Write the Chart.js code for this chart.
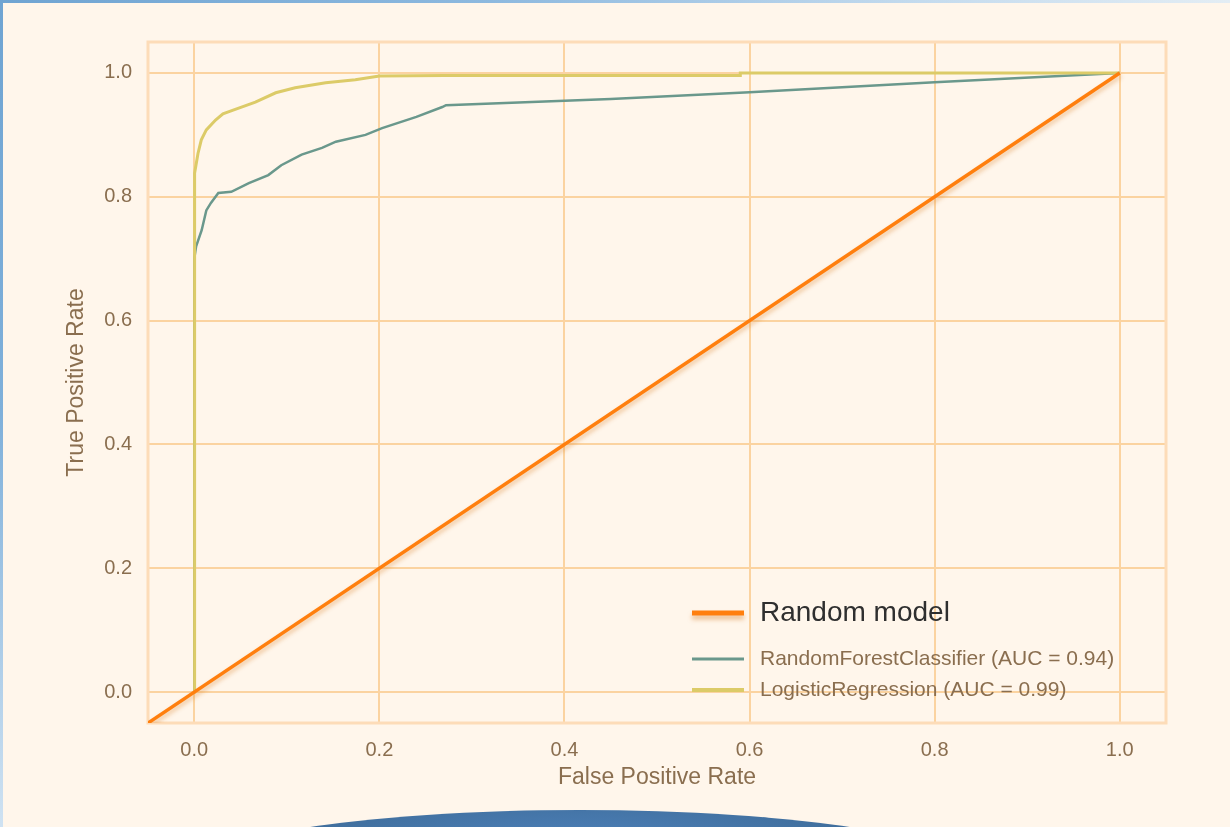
<!DOCTYPE html>
<html>
<head>
<meta charset="utf-8">
<script src="https://cdn.jsdelivr.net/npm/chart.js@4"></script>
<style>
  html, body { margin: 0; padding: 0; }
  body { width: 1230px; height: 827px; background: #fff6eb; position: relative; overflow: hidden; }
  .edge-top { position: absolute; left: 0; top: 0; width: 1230px; height: 3px;
    background: linear-gradient(90deg, #6fa4d2 0%, #8db9df 40%, #c4dbee 75%, #e3edf4 100%); }
  .edge-left { position: absolute; left: 0; top: 0; width: 3px; height: 827px;
    background: linear-gradient(180deg, #6fa4d2 0%, #7fb0da 50%, #cfe2f2 100%); }
  .globe { position: absolute; left: 180px; top: 810px; width: 800px; height: 130px; border-radius: 50%;
    background: radial-gradient(ellipse at 50% 35%, #4f84c0 0%, #41709f 50%, #34598a 85%); }
  canvas { position: absolute; left: 0; top: 0; }
</style>
</head>
<body>
<div class="edge-top"></div>
<div class="edge-left"></div>
<div class="globe"></div>
<canvas id="roc" width="1230" height="827"></canvas>
<script>
'use strict';

// ─── Data ────────────────────────────────────────────────────────────────────
const xTicks = [0.0, 0.2, 0.4, 0.6, 0.8, 1.0];
const yTicks = [0.0, 0.2, 0.4, 0.6, 0.8, 1.0];

const randomFpr = [-0.05, 1.0];
const randomTpr = [-0.05, 1.0];

const rfFpr = [0, 0, 0.002, 0.008, 0.013, 0.018, 0.026, 0.040, 0.059, 0.080, 0.094,
               0.116, 0.138, 0.153, 0.185, 0.203, 0.240, 0.268, 0.272, 0.45, 0.60, 0.80, 1.0];
const rfTpr = [0, 0.70, 0.720, 0.746, 0.778, 0.790, 0.806, 0.808, 0.822, 0.835, 0.851,
               0.868, 0.879, 0.889, 0.900, 0.911, 0.929, 0.945, 0.948, 0.958, 0.969, 0.985, 1.0];

const lrFpr = [0, 0, 0.0007, 0.004, 0.0076, 0.013, 0.023, 0.031, 0.042, 0.066, 0.088,
               0.109, 0.142, 0.174, 0.200, 0.270, 0.590, 0.590, 1.0];
const lrTpr = [0, 0.70, 0.838, 0.870, 0.892, 0.908, 0.924, 0.934, 0.940, 0.953, 0.968,
               0.976, 0.984, 0.989, 0.995, 0.996, 0.996, 1.0, 1.0];

const seriesLabels = ['Random model', 'RandomForestClassifier (AUC = 0.94)', 'LogisticRegression (AUC = 0.99)'];

// ─── Style ───────────────────────────────────────────────────────────────────
const FONT      = "'Liberation Sans', Arial, sans-serif";
const TEXT      = '#8a6e4f';
const GRID      = '#fbd3a0';
const ORANGE    = '#ff7f0e';
const TEAL      = '#6a988c';
const YELLOW    = '#dccb68';

const toPoints = (xs, ys) => xs.map((x, i) => ({ x, y: ys[i] }));

// Frame around the plot area (matplotlib spines)
const framePlugin = {
  id: 'frame',
  beforeDatasetsDraw(chart) {
    const { ctx, chartArea: a } = chart;
    ctx.save();
    ctx.strokeStyle = '#fddcb8';
    ctx.lineWidth = 3;
    ctx.strokeRect(a.left, a.top, a.right - a.left, a.bottom - a.top);
    ctx.restore();
  },
};

// Soft shadow under the random-model diagonal
const shadowPlugin = {
  id: 'lineShadow',
  beforeDatasetDraw(chart, args) {
    if (args.index !== 0) return;
    const ctx = chart.ctx;
    ctx.save();
    ctx.shadowColor = 'rgba(220, 140, 60, 0.45)';
    ctx.shadowBlur = 4;
    ctx.shadowOffsetX = 1;
    ctx.shadowOffsetY = 3;
  },
  afterDatasetDraw(chart, args) {
    if (args.index !== 0) return;
    chart.ctx.restore();
  },
};

// Legend inside the axes, lower right
const legendPlugin = {
  id: 'innerLegend',
  afterDraw(chart) {
    const { ctx } = chart;
    const rows = [
      { y: 613, size: 28, color: '#2f2f2f', lw: 5, shadow: true },
      { y: 659, size: 21, color: TEXT,      lw: 3 },
      { y: 690, size: 21, color: TEXT,      lw: 4 },
    ];
    ctx.save();
    chart.data.datasets.forEach((ds, i) => {
      const r = rows[i];
      ctx.save();
      if (r.shadow) {
        ctx.shadowColor = 'rgba(220, 140, 60, 0.5)';
        ctx.shadowBlur = 4;
        ctx.shadowOffsetY = 4;
      }
      ctx.strokeStyle = ds.borderColor;
      ctx.lineWidth = r.lw;
      ctx.beginPath();
      ctx.moveTo(692, r.y);
      ctx.lineTo(744, r.y);
      ctx.stroke();
      ctx.restore();
      ctx.fillStyle = r.color;
      ctx.font = `${r.size}px ${FONT}`;
      ctx.textBaseline = 'middle';
      ctx.textAlign = 'left';
      ctx.fillText(ds.label, 760, r.y);
    });
    ctx.restore();
  },
};

// ─── Chart ───────────────────────────────────────────────────────────────────
new Chart(document.getElementById('roc').getContext('2d'), {
  type: 'line',
  data: {
    datasets: [
      {
        label: seriesLabels[0],
        data: toPoints(randomFpr, randomTpr),
        borderColor: ORANGE,
        borderWidth: 3.5,
        order: 0,
      },
      {
        label: seriesLabels[1],
        data: toPoints(rfFpr, rfTpr),
        borderColor: TEAL,
        borderWidth: 2.5,
        order: 2,
      },
      {
        label: seriesLabels[2],
        data: toPoints(lrFpr, lrTpr),
        borderColor: YELLOW,
        borderWidth: 3,
        order: 1,
      },
    ],
  },
  options: {
    responsive: false,
    animation: false,
    layout: { padding: { left: 56, top: 42, right: 64, bottom: 30 } },
    elements: {
      point: { radius: 0, hoverRadius: 0 },
      line:  { tension: 0, fill: false, borderCapStyle: 'butt' },
    },
    plugins: {
      legend:  { display: false },
      tooltip: { enabled: false },
    },
    scales: {
      x: {
        type: 'linear',
        min: -0.05,
        max: 1.05,
        afterBuildTicks: (s) => { s.ticks = xTicks.map(v => ({ value: v })); },
        afterFit: (s) => { s.height = 74; },
        grid:   { color: GRID, lineWidth: 2, drawTicks: false },
        border: { display: false },
        ticks:  { color: TEXT, padding: 15, font: { family: FONT, size: 20 }, callback: (v) => v.toFixed(1) },
        title:  { display: true, text: 'False Positive Rate', color: TEXT,
                  font: { family: FONT, size: 23 }, padding: { top: 0, bottom: 6 } },
      },
      y: {
        type: 'linear',
        min: -0.05,
        max: 1.05,
        afterBuildTicks: (s) => { s.ticks = yTicks.map(v => ({ value: v })); },
        afterFit: (s) => { s.width = 92; },
        grid:   { color: GRID, lineWidth: 2, drawTicks: false },
        border: { display: false },
        ticks:  { color: TEXT, padding: 16, font: { family: FONT, size: 20 }, callback: (v) => v.toFixed(1) },
        title:  { display: true, text: 'True Positive Rate', color: TEXT,
                  font: { family: FONT, size: 23 }, padding: { top: 7, bottom: 0 } },
      },
    },
  },
  plugins: [framePlugin, shadowPlugin, legendPlugin],
});
</script>
</body>
</html>
